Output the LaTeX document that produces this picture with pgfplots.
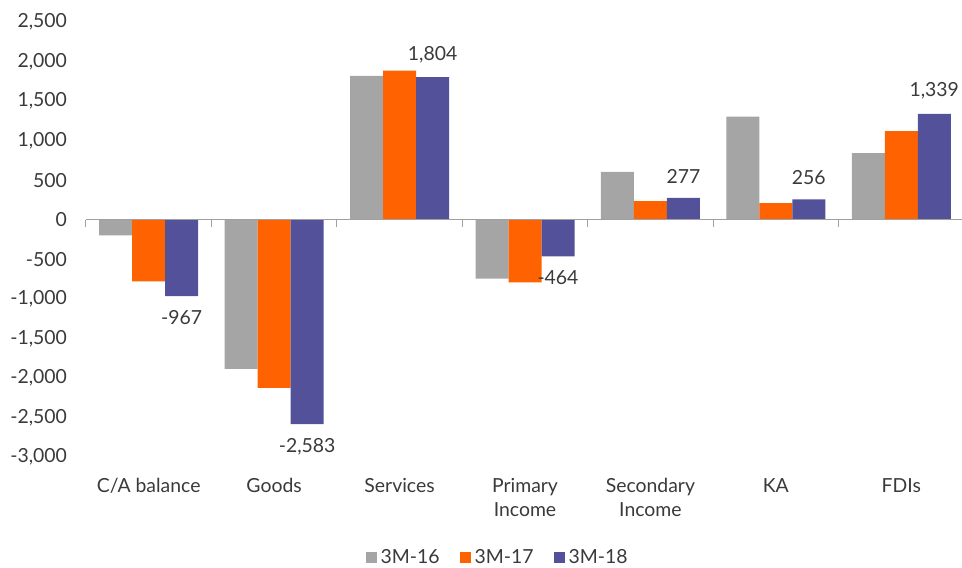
\documentclass[border=0pt]{standalone}
\usepackage{pgfplots}
\pgfplotsset{compat=1.18}
\usepackage{fontspec}
\setmainfont{Lato}
\definecolor{cgray}{HTML}{A5A5A5}
\definecolor{corange}{HTML}{FF6200}
\definecolor{cpurple}{HTML}{525199}
\definecolor{ctext}{HTML}{3A3A3A}
\definecolor{czero}{HTML}{A0A0A0}
\begin{document}
\begin{tikzpicture}
\path[use as bounding box] (-43pt,-55pt) rectangle (438pt,228.5pt);
\begin{axis}[
  at={(0pt,0pt)}, anchor=south west,
  scale only axis,
  width=439pt, height=217.5pt,
  xmin=-0.5, xmax=6.5,
  ymin=-3000, ymax=2500,
  ybar=0pt, bar width=16.5pt,
  axis line style={draw=none},
  major tick length=0pt,
  xtick={0,...,6},
  xticklabels={\strut C/A balance, \strut Goods, \strut Services, \strut Primary\\\strut Income, \strut Secondary\\\strut Income, \strut KA, \strut FDIs},
  xticklabel style={align=center, yshift=-5.5pt, font=\fontsize{9.7}{12.3}\selectfont, text=ctext},
  ytick={-3000,-2500,...,2500},
  yticklabel style={xshift=-6pt, font=\fontsize{9.7}{12}\selectfont, text=ctext},
  /pgf/number format/assume math mode=true,
  /pgf/number format/1000 sep={,},
  clip=false,
  legend columns=3,
  legend style={draw=none, fill=none, at={(0.47,-0.232)}, anchor=center,
    font=\fontsize{9.7}{12}\selectfont, text=ctext,
    /tikz/every even column/.append style={column sep=8pt}},
  legend image code/.code={\fill[#1] (0pt,-2.75pt) rectangle (5.5pt,2.75pt);},
]
\addplot[fill=cgray, draw=none] coordinates {(0,-198) (1,-1885) (2,1818) (3,-745) (4,606) (5,1305) (6,842)};
\addplot[fill=corange, draw=none] coordinates {(0,-779) (1,-2125) (2,1885) (3,-792) (4,236) (5,210) (6,1120)};
\addplot[fill=cpurple, draw=none,
  nodes near coords={\pgfmathprintnumber[assume math mode=true,1000 sep={,}]{\pgfplotspointmeta}},
  every node near coord/.append style={font=\fontsize{9.7}{12}\selectfont, text=ctext, inner ysep=7pt}]
  coordinates {(0,-967) (1,-2583) (2,1804) (3,-464) (4,277) (5,256) (6,1339)};
\legend{3M-16,3M-17,3M-18}
\draw[czero, line width=0.5pt] (axis cs:-0.5,0) -- (axis cs:6.6,0);
\draw[czero, line width=0.5pt]
  (axis cs:-0.5,0) -- (axis cs:-0.5,-88)
  (axis cs:0.5,0) -- (axis cs:0.5,-88)
  (axis cs:1.5,0) -- (axis cs:1.5,-88)
  (axis cs:2.5,0) -- (axis cs:2.5,-88)
  (axis cs:3.5,0) -- (axis cs:3.5,-88)
  (axis cs:4.5,0) -- (axis cs:4.5,-88)
  (axis cs:5.5,0) -- (axis cs:5.5,-88);
\end{axis}
\end{tikzpicture}
\end{document}
